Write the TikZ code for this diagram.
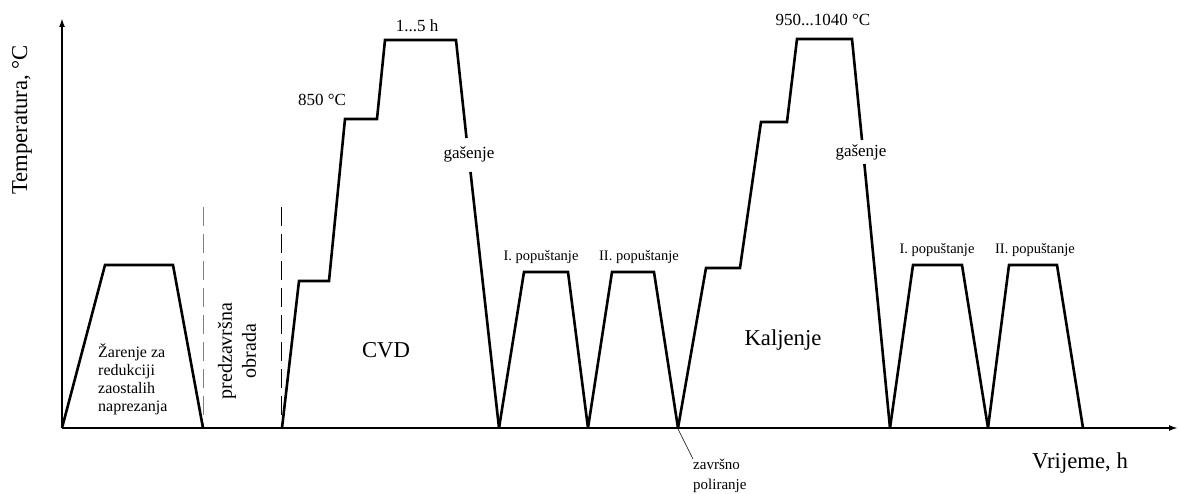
\documentclass[tikz,border=0pt]{standalone}
\usepackage{fontspec}
\setmainfont{Liberation Serif}
\usetikzlibrary{arrows.meta}
\tikzset{
  profile/.style={line width=2.6pt, line join=miter, miter limit=2},
  axis/.style={line width=2.2pt, -{Latex[length=9pt,width=6pt]}},
  sep/.style={line width=1pt, dash pattern=on 19pt off 8pt},
  lbl/.style={inner sep=0pt, font=\fontsize{17}{19}\selectfont},
  pop/.style={inner sep=0pt, font=\fontsize{14.5}{16}\selectfont},
  big/.style={inner sep=0pt, font=\fontsize{22.7}{25}\selectfont},
  small/.style={inner sep=0pt, font=\fontsize{16}{18}\selectfont, align=left},
}
\begin{document}
\begin{tikzpicture}[x=1pt,y=-1pt]
\useasboundingbox (0,0) rectangle (1179,494);
% axes
\coordinate (O) at (62,428);
\coordinate (Ytop) at (62,18);
\coordinate (Xend) at (1178,428);
\draw[axis] (O) -- (Ytop);
\draw[axis] (O) -- (Xend);
\node[big, rotate=90] (ylab) at (22,120) {Temperatura, °C};
\node[big] (xlab) at (1080,463) {Vrijeme, h};
% separators
\draw[sep, gray] (203,207) -- (203,428);
\draw[sep] (281,207) -- (281,428);
% annealing
\draw[profile] (62,428) -- (105,265) -- (173,265) -- (203,428);
\node[small, anchor=north west] (zar) at (98,344) {Žarenje za\\redukciji\\zaostalih\\naprezanja};
\node[inner sep=0pt, rotate=90, align=center, font=\fontsize{20}{24}\selectfont] (pred) at (237,351) {predzavršna\\obrada};
% CVD
\draw[profile] (282,428) -- (299,281) -- (329,281) -- (345,119) -- (377,119) -- (385,40) -- (456,40) -- (466.5,138);
\draw[profile] (470.5,172) -- (499,428);
\node[lbl] (t850) at (322,100) {850 °C};
\node[lbl] (t15) at (417,26) {1...5 h};
\node[lbl] (gas1) at (469,154) {gašenje};
\node[big] (cvd) at (386,350) {CVD};
% tempering after CVD
\draw[profile] (499,428) -- (524,272) -- (568,272) -- (588,428) -- (612,272) -- (654,272) -- (678,428);
\node[pop] (p1) at (541,257) {I. popuštanje};
\node[pop] (p2) at (639,257) {II. popuštanje};
% Kaljenje
\draw[profile] (678,428) -- (706,268) -- (740,268) -- (761,122) -- (787,122) -- (797,39) -- (852,39) -- (862,140);
\draw[profile] (864.4,164) -- (890,428);
\node[lbl] (t950) at (823,20) {950...1040 °C};
\node[lbl] (gas2) at (861,152) {gašenje};
\node[big] (kal) at (783,340) {Kaljenje};
% tempering after hardening
\draw[profile] (890,428) -- (913,265) -- (962,265) -- (988,428) -- (1009,265) -- (1057,265) -- (1083,428);
\node[pop] (p3) at (937,250) {I. popuštanje};
\node[pop] (p4) at (1035,250) {II. popuštanje};
% final polishing
\coordinate (pol) at (678,429);
\node[small, anchor=north west, font=\fontsize{15}{20}\selectfont] (zav) at (693,459) {završno\\poliranje};
\draw[line width=0.6pt] (pol) -- (zav.north west);
\end{tikzpicture}
\end{document}
